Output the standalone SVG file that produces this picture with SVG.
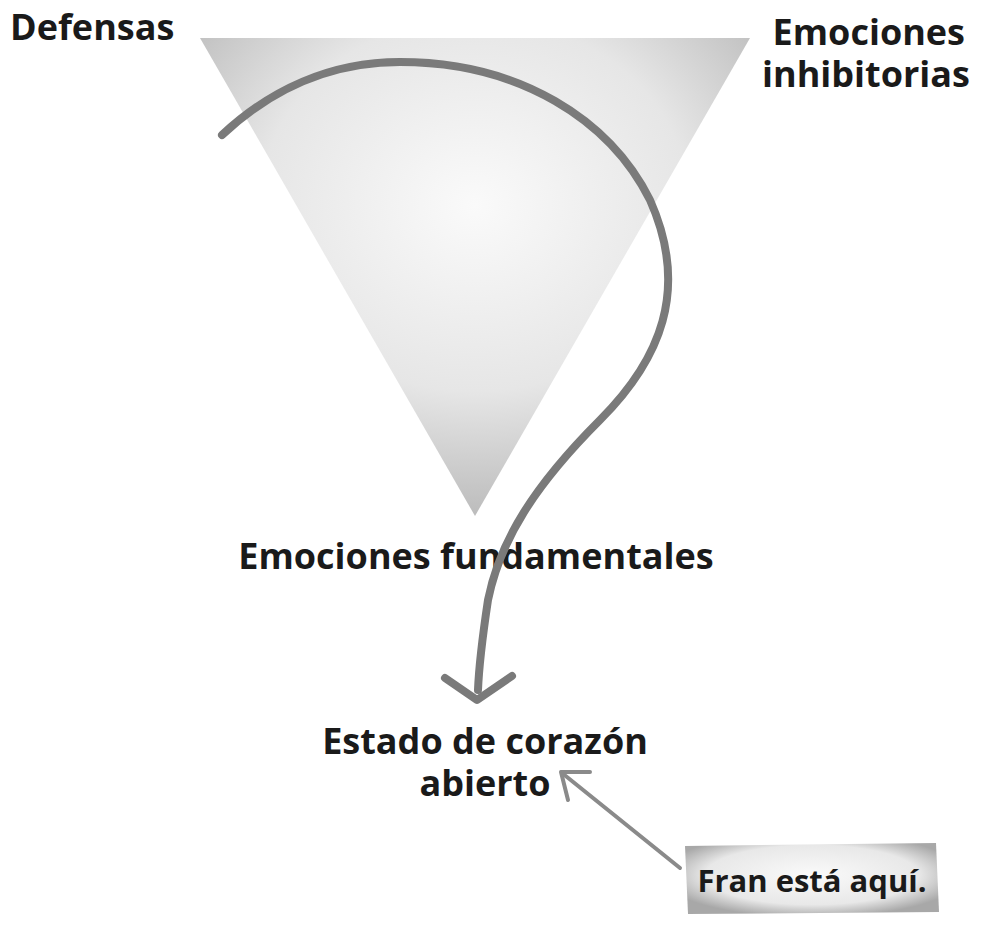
<svg xmlns="http://www.w3.org/2000/svg" width="990" height="931" viewBox="0 0 990 931">
<style>
text{font-family:"Open Sans","Liberation Sans",sans-serif;font-weight:700;fill:#1a1a1a}
.big{font-size:36px}
.cur{fill:none;stroke:#7a7a7a;stroke-width:8;stroke-linecap:round;stroke-linejoin:round}
.thin{fill:none;stroke:#8a8a8a;stroke-width:4;stroke-linecap:round;stroke-linejoin:round}
</style>
<defs>
<radialGradient id="g" cx="0.5" cy="0.35" r="0.65">
<stop offset="0" stop-color="#fafafa"/><stop offset="0.6" stop-color="#e6e6e6"/><stop offset="1" stop-color="#bcbcbc"/>
</radialGradient>
<radialGradient id="b" cx="0.5" cy="0.45" r="0.6">
<stop offset="0" stop-color="#fafafa"/><stop offset="0.7" stop-color="#e8e8e8"/><stop offset="1" stop-color="#a8a8a8"/>
</radialGradient>
</defs>
<rect width="990" height="931" fill="#fff"/>
<g id="triangle"><polygon points="200,38 750,38 475,516" fill="url(#g)"/></g>
<g id="labels">
<text class="big" x="10" y="40">Defensas</text>
<text class="big" x="965" y="45" text-anchor="end">Emociones</text>
<text class="big" x="970" y="87" text-anchor="end">inhibitorias</text>
<text class="big" x="476" y="569" text-anchor="middle">Emociones fundamentales</text>
<text class="big" x="485" y="754" text-anchor="middle">Estado de corazón</text>
<text class="big" x="485" y="796" text-anchor="middle">abierto</text>
</g>
<g id="fran">
<path d="M685,846 L936,843 L939,912 L688,914 Z" fill="url(#b)"/>
<text x="812" y="892" text-anchor="middle" font-size="31">Fran está aquí.</text>
</g>
<g id="connectors">
<path class="cur" d="M222,135 C270,90 330,62 400,62 C520,62 610,120 650,200 C690,290 660,360 600,420 C535,485 500,540 488,600 C482,640 479,665 478,690"/>
<path class="cur" d="M445,678 L477,700 L512,676"/>
<path class="thin" d="M680,868 L562,773"/>
<path class="thin" d="M568,800 L561,772 L590,772"/>
</g>
</svg>
